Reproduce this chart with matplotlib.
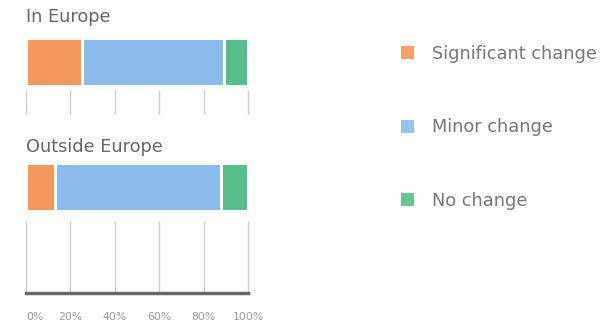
import matplotlib
matplotlib.use("Agg")
import matplotlib.pyplot as plt
from matplotlib.patches import Patch

plt.rcParams['font.family'] = ['DejaVu Sans']

panels = ["In Europe", "Outside Europe"]
series = ["Significant change", "Minor change", "No change"]
values = {
    "In Europe": [25, 64, 11],
    "Outside Europe": [13, 75, 12],
}
colors = ["#F2985A", "#8BBBEA", "#55BE8A"]
ticks = [0, 20, 40, 60, 80, 100]
tick_labels = ["0%", "20%", "40%", "60%", "80%", "100%"]

W, H = 612, 322
fig = plt.figure(figsize=(W / 100, H / 100), dpi=100)

# axes boxes in pixels: (left, top, right, bottom)
boxes = {"In Europe": (26, 38, 248, 114), "Outside Europe": (26, 163, 248, 293)}
grid_gap_px = {"In Europe": 4, "Outside Europe": 10}
title_base = {"In Europe": 22, "Outside Europe": 152}
bar_px = 48

for name in panels:
    l, t, r, b = boxes[name]
    ax = fig.add_axes([l / W, 1 - b / H, (r - l) / W, (b - t) / H])
    left = 0
    for v, c in zip(values[name], colors):
        ax.barh(0, v, left=left, height=1, align='edge', color=c,
                edgecolor='white', linewidth=2.2, zorder=3)
        left += v
    ax.set_xlim(0, 100)
    ybot = -(b - t - bar_px) / bar_px
    ax.set_ylim(ybot, 1)
    ax.vlines(ticks, ybot, -grid_gap_px[name] / bar_px, color='#d0d0d0',
              linewidth=1, zorder=1, clip_on=False)
    for s in ax.spines.values():
        s.set_visible(False)
    ax.set_yticks([])
    ax.tick_params(axis='x', length=0)
    if name == "Outside Europe":
        ax.spines['bottom'].set_visible(True)
        ax.spines['bottom'].set_color('#6a6a6a')
        ax.spines['bottom'].set_linewidth(2.5)
        ax.spines['bottom'].set_zorder(4)
        ax.set_xticks(ticks)
        ax.set_xticklabels(tick_labels, fontsize=7.8, color='#999999')
        ax.tick_params(axis='x', pad=14)
        lbls = ax.get_xticklabels()
        lbls[0].set_ha('left')
    else:
        ax.set_xticks([])
    fig.text(l / W, 1 - title_base[name] / H, name, fontsize=12.8, color='#666666',
             ha='left', va='baseline')

handles = [Patch(facecolor=c, edgecolor='none', alpha=0.9) for c in colors]
fig.legend(handles, series, loc='upper left', bbox_to_anchor=(401 / W, 1 - 45 / H),
           frameon=False, fontsize=12.8, labelcolor='#777777',
           handlelength=0.72, handleheight=0.72, handletextpad=1.05,
           labelspacing=3.12, borderaxespad=0, borderpad=0)

fig.savefig("out.png", dpi=100)
